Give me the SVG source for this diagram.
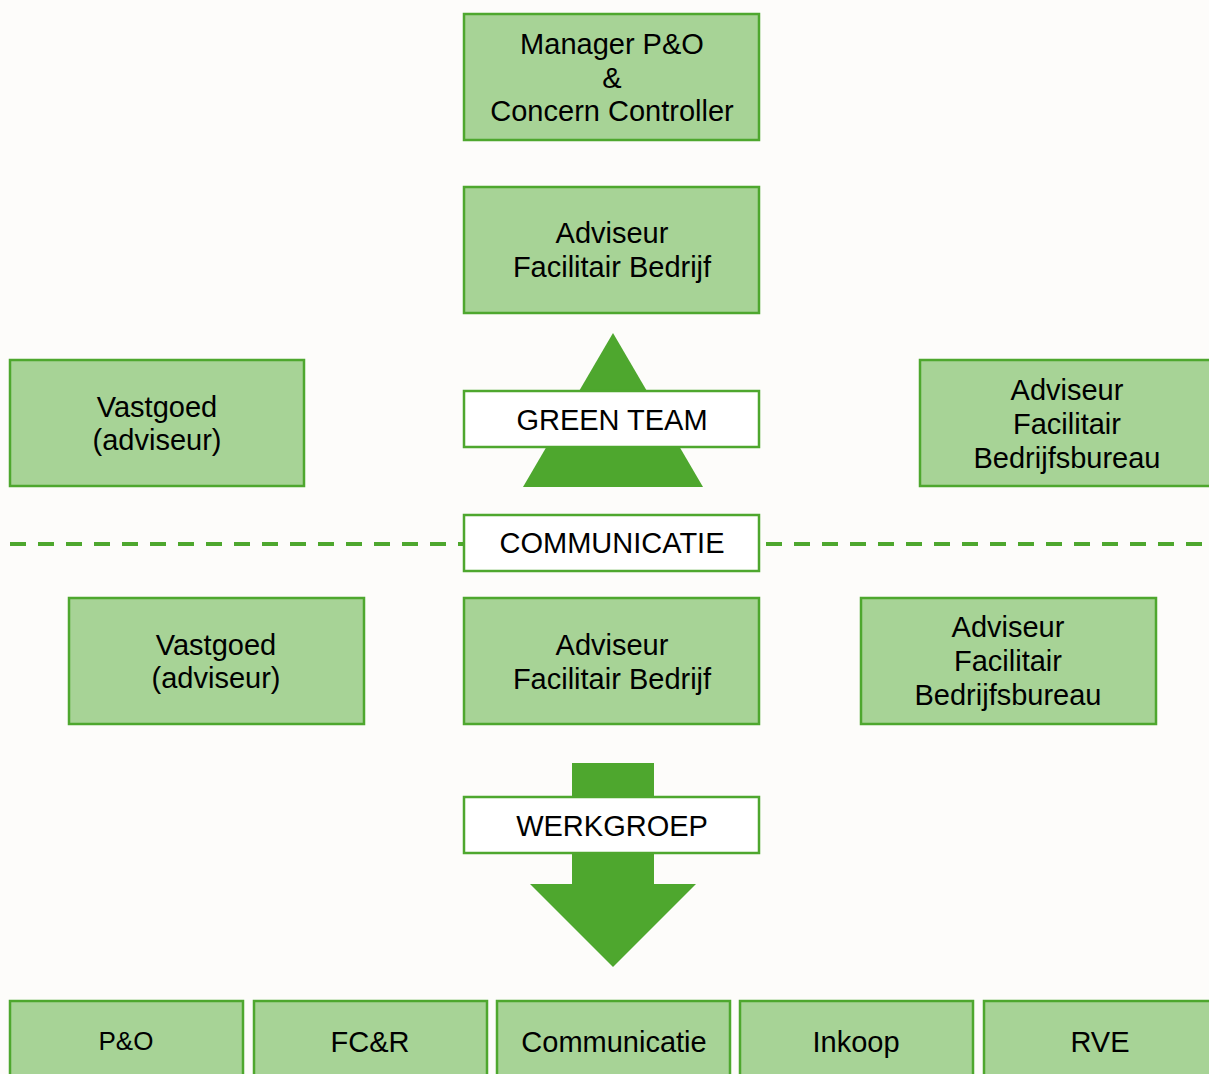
<svg xmlns="http://www.w3.org/2000/svg" width="1209" height="1074" viewBox="0 0 1209 1074">
<style>
.box{fill:#a7d396;stroke:#4ea72e;stroke-width:2.5}
.wbox{fill:#ffffff;stroke:#4ea72e;stroke-width:2.5}
.solid{fill:#4ea72e}
text{font-family:"Liberation Sans",Arial,sans-serif;font-size:29px;fill:#000;text-anchor:middle}
.sm{font-size:29px}
</style>
<rect x="0" y="0" width="1209" height="1074" fill="#fdfcfa"/>
<g id="connectors">
<line x1="10" y1="544" x2="464" y2="544" stroke="#4ea72e" stroke-width="4" stroke-dasharray="16 12"/>
<line x1="766" y1="544" x2="1209" y2="544" stroke="#4ea72e" stroke-width="4" stroke-dasharray="16 12"/>
<polygon id="triangle" class="solid" points="613,333 703,487 523,487"/>
<polygon id="arrow" class="solid" points="572,763 654,763 654,884 696,884 613,967 530,884 572,884"/>
</g>
<g id="manager">
<rect class="box" x="464" y="14" width="295" height="126"/>
<text x="612" y="54">Manager P&amp;O</text>
<text x="612" y="88">&amp;</text>
<text x="612" y="121">Concern Controller</text>
</g>
<g id="adviseur-top">
<rect class="box" x="464" y="187" width="295" height="126"/>
<text x="612" y="243">Adviseur</text>
<text x="612" y="277">Facilitair Bedrijf</text>
</g>
<g id="vastgoed-top">
<rect class="box" x="10" y="360" width="294" height="126"/>
<text x="157" y="417">Vastgoed</text>
<text x="157" y="450">(adviseur)</text>
</g>
<g id="bureau-top">
<rect class="box" x="920" y="360" width="295" height="126"/>
<text x="1067" y="400">Adviseur</text>
<text x="1067" y="434">Facilitair</text>
<text x="1067" y="468">Bedrijfsbureau</text>
</g>
<g id="green-team">
<rect class="wbox" x="464" y="391" width="295" height="56"/>
<text x="612" y="430">GREEN TEAM</text>
</g>
<g id="communicatie-label">
<rect class="wbox" x="464" y="515" width="295" height="56"/>
<text x="612" y="553">COMMUNICATIE</text>
</g>
<g id="vastgoed-mid">
<rect class="box" x="69" y="598" width="295" height="126"/>
<text x="216" y="655">Vastgoed</text>
<text x="216" y="688">(adviseur)</text>
</g>
<g id="adviseur-mid">
<rect class="box" x="464" y="598" width="295" height="126"/>
<text x="612" y="655">Adviseur</text>
<text x="612" y="689">Facilitair Bedrijf</text>
</g>
<g id="bureau-mid">
<rect class="box" x="861" y="598" width="295" height="126"/>
<text x="1008" y="637">Adviseur</text>
<text x="1008" y="671">Facilitair</text>
<text x="1008" y="705">Bedrijfsbureau</text>
</g>
<g id="werkgroep">
<rect class="wbox" x="464" y="797" width="295" height="56"/>
<text x="612" y="836">WERKGROEP</text>
</g>
<g id="po">
<rect class="box" x="10" y="1001" width="233" height="80"/>
<text x="126" y="1050" style="font-size:26px">P&amp;O</text>
</g>
<g id="fcr">
<rect class="box" x="254" y="1001" width="233" height="80"/>
<text x="370" y="1052" class="sm">FC&amp;R</text>
</g>
<g id="communicatie">
<rect class="box" x="497" y="1001" width="233" height="80"/>
<text x="614" y="1052" class="sm">Communicatie</text>
</g>
<g id="inkoop">
<rect class="box" x="740" y="1001" width="233" height="80"/>
<text x="856" y="1052" class="sm">Inkoop</text>
</g>
<g id="rve">
<rect class="box" x="984" y="1001" width="233" height="80"/>
<text x="1100" y="1052" class="sm">RVE</text>
</g>
</svg>
